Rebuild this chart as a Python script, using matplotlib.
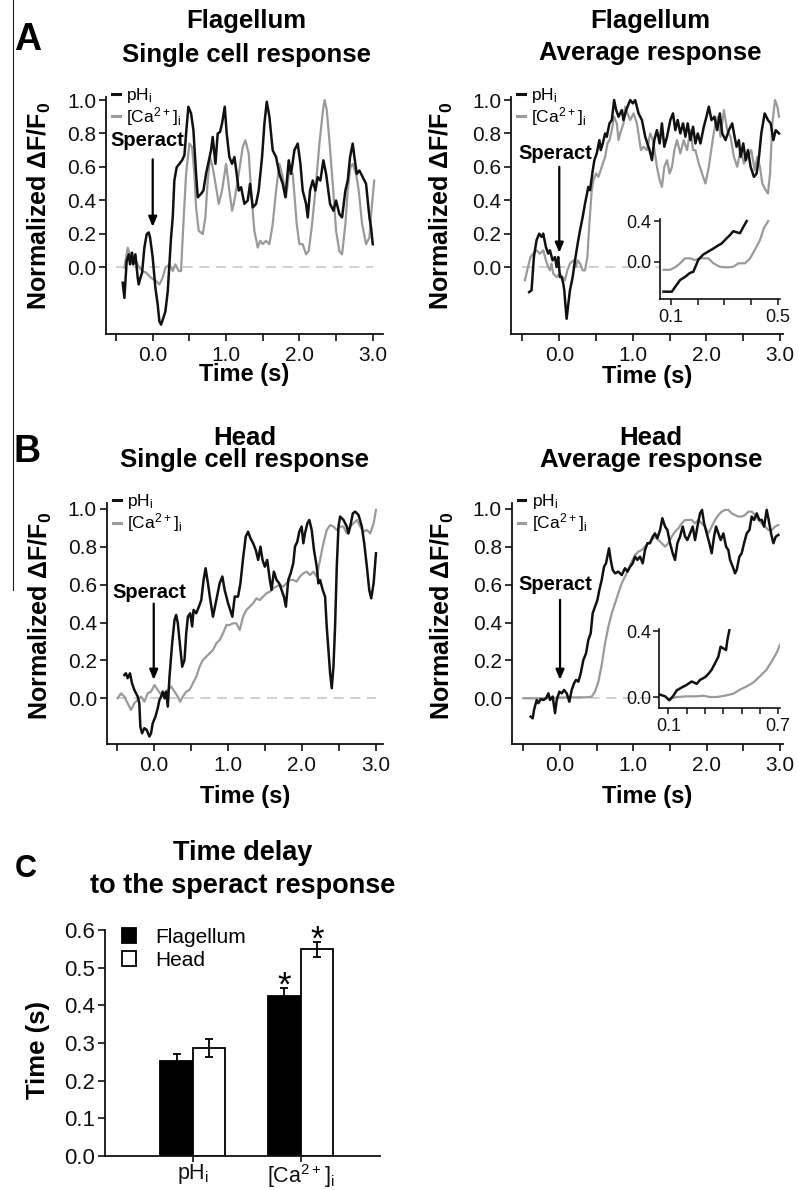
import numpy as np
import matplotlib
matplotlib.use("Agg")
import matplotlib.pyplot as plt
from matplotlib.lines import Line2D

plt.rcParams['font.family'] = ['Liberation Sans', 'DejaVu Sans']
plt.rcParams['mathtext.default'] = 'regular'

# ---------------- data ----------------
# Panel A, flagellum, single cell
fsc_ph_t = [-0.409,-0.386,-0.355,-0.327,-0.309,-0.282,-0.264,-0.236,-0.205,-0.191,-0.168,-0.145,-0.114,-0.082,-0.055,-0.036,0.0,0.036,0.068,0.091,0.114,0.145,0.173,0.205,0.25,0.273,0.295,0.327,0.364,0.4,0.432,0.455,0.486,0.523,0.555,0.591,0.614,0.659,0.691,0.727,0.795,0.818,0.855,0.886,0.918,0.945,0.982,1.009,1.045,1.082,1.114,1.145,1.173,1.205,1.25,1.295,1.327,1.364,1.409,1.445,1.491,1.523,1.555,1.591,1.636,1.682,1.727,1.773,1.809,1.855,1.886,1.932,1.977,2.014,2.045,2.091,2.114,2.145,2.182,2.218,2.25,2.286,2.327,2.364,2.418,2.464,2.5,2.545,2.582,2.627,2.659,2.691,2.727,2.75,2.782,2.818,2.864,2.909,2.955,2.977,3.0]
fsc_ph_y = [-0.094,-0.185,0.036,0.076,0.016,0.086,0.016,0.076,-0.064,-0.104,-0.064,-0.034,0.116,0.197,0.207,0.177,0.056,-0.124,-0.225,-0.325,-0.345,-0.305,-0.265,-0.145,0.177,0.297,0.518,0.598,0.618,0.639,0.669,0.799,0.96,0.92,0.819,0.558,0.418,0.438,0.458,0.558,0.699,0.779,0.618,0.799,0.809,0.859,0.96,0.799,0.659,0.618,0.659,0.558,0.458,0.478,0.378,0.398,0.498,0.357,0.378,0.458,0.659,0.859,0.99,0.9,0.699,0.659,0.558,0.498,0.418,0.639,0.558,0.699,0.739,0.618,0.458,0.378,0.297,0.458,0.518,0.458,0.538,0.518,0.639,0.558,0.378,0.337,0.398,0.317,0.297,0.458,0.518,0.659,0.739,0.659,0.558,0.578,0.538,0.498,0.297,0.237,0.137]
fsc_ca_t = [-0.386,-0.341,-0.309,-0.273,-0.227,-0.182,-0.136,-0.091,-0.023,0.045,0.091,0.136,0.173,0.227,0.273,0.309,0.355,0.386,0.418,0.455,0.5,0.536,0.568,0.591,0.627,0.682,0.718,0.75,0.782,0.818,0.864,0.9,0.945,1.0,1.045,1.082,1.114,1.173,1.227,1.264,1.309,1.341,1.386,1.432,1.464,1.5,1.545,1.591,1.636,1.682,1.727,1.773,1.818,1.864,1.909,1.964,2.0,2.045,2.091,2.127,2.173,2.227,2.273,2.327,2.345,2.373,2.409,2.455,2.5,2.545,2.582,2.627,2.659,2.695,2.727,2.773,2.809,2.855,2.909,2.955,2.986,3.02]
fsc_ca_y = [-0.004,0.116,0.076,0.016,0.036,-0.004,-0.024,-0.034,-0.064,-0.084,-0.104,-0.064,-0.004,0.016,-0.024,0.016,-0.024,-0.024,0.257,0.558,0.739,0.719,0.558,0.357,0.217,0.197,0.297,0.518,0.659,0.598,0.478,0.378,0.458,0.618,0.458,0.337,0.398,0.558,0.719,0.759,0.679,0.458,0.217,0.116,0.157,0.137,0.157,0.137,0.257,0.458,0.618,0.538,0.418,0.578,0.558,0.257,0.137,0.137,0.076,0.096,0.257,0.498,0.739,0.96,1.0,0.94,0.759,0.498,0.217,0.096,0.076,0.257,0.458,0.598,0.618,0.558,0.458,0.257,0.137,0.177,0.357,0.518]

# Panel A, flagellum, average
fav_ph_t = [-0.409,-0.377,-0.345,-0.309,-0.273,-0.241,-0.218,-0.182,-0.15,-0.127,-0.091,-0.059,-0.036,-0.014,0.009,0.032,0.055,0.068,0.082,0.1,0.123,0.145,0.182,0.214,0.25,0.282,0.318,0.35,0.395,0.418,0.455,0.477,0.509,0.545,0.564,0.591,0.623,0.645,0.682,0.714,0.745,0.773,0.805,0.85,0.873,0.909,0.964,1.0,1.032,1.077,1.123,1.168,1.227,1.259,1.291,1.327,1.364,1.395,1.427,1.464,1.509,1.545,1.577,1.609,1.645,1.682,1.714,1.745,1.782,1.818,1.85,1.882,1.918,1.964,2.0,2.032,2.068,2.109,2.145,2.182,2.214,2.259,2.305,2.35,2.382,2.409,2.441,2.464,2.5,2.532,2.564,2.6,2.645,2.682,2.714,2.745,2.791,2.836,2.873,2.909,2.941,2.986]
fav_ph_y = [-0.15,-0.14,0.06,0.16,0.2,0.18,0.2,0.12,0.08,0.1,0.04,0.06,0.0,0.06,-0.06,-0.06,-0.1,-0.14,-0.22,-0.31,-0.22,-0.14,-0.06,0.04,0.14,0.22,0.3,0.38,0.48,0.46,0.58,0.64,0.68,0.76,0.7,0.74,0.8,0.78,0.86,0.88,1.0,0.94,0.9,0.94,0.88,0.94,1.0,0.98,1.0,0.92,0.88,0.78,0.7,0.64,0.76,0.82,0.74,0.86,0.72,0.78,0.88,0.92,0.82,0.88,0.8,0.86,0.78,0.86,0.76,0.84,0.74,0.8,0.74,0.84,0.9,0.96,0.88,0.9,0.82,0.92,0.8,0.76,0.82,0.86,0.78,0.72,0.76,0.66,0.74,0.64,0.7,0.6,0.54,0.56,0.66,0.8,0.92,0.88,0.86,0.76,0.82,0.8]
fav_ca_t = [-0.468,-0.436,-0.391,-0.355,-0.309,-0.264,-0.218,-0.182,-0.15,-0.127,-0.105,-0.082,-0.036,0.009,0.045,0.077,0.109,0.145,0.191,0.227,0.25,0.282,0.318,0.35,0.382,0.409,0.441,0.464,0.5,0.532,0.577,0.623,0.655,0.682,0.714,0.745,0.782,0.805,0.827,0.873,0.895,0.927,0.964,1.009,1.055,1.109,1.145,1.191,1.236,1.273,1.327,1.364,1.395,1.427,1.464,1.5,1.532,1.564,1.6,1.645,1.691,1.736,1.782,1.818,1.85,1.895,1.955,1.986,2.032,2.091,2.123,2.155,2.191,2.236,2.282,2.327,2.373,2.418,2.464,2.509,2.564,2.609,2.655,2.691,2.727,2.759,2.805,2.836,2.864,2.895,2.932,2.964,2.986]
fav_ca_y = [-0.08,-0.02,0.06,0.08,0.1,0.08,0.1,0.04,0.0,-0.02,0.02,-0.04,-0.06,-0.04,-0.06,-0.08,-0.02,0.02,0.04,0.0,0.04,0.02,-0.02,-0.02,0.06,0.26,0.46,0.52,0.56,0.54,0.6,0.66,0.74,0.76,0.82,0.9,0.86,0.76,0.8,0.86,0.96,0.92,0.88,0.92,0.86,0.7,0.72,0.7,0.8,0.76,0.6,0.52,0.48,0.6,0.64,0.56,0.6,0.7,0.76,0.68,0.76,0.7,0.82,0.7,0.7,0.62,0.54,0.5,0.6,0.78,0.86,0.9,0.78,0.94,0.82,0.78,0.66,0.6,0.7,0.62,0.66,0.7,0.58,0.66,0.6,0.5,0.46,0.44,0.56,0.86,1.0,0.96,0.9]
# inset (flagellum average, early rise)
fin_ph_t = [0.073,0.104,0.116,0.135,0.153,0.172,0.184,0.203,0.221,0.24,0.259,0.277,0.29,0.308,0.32,0.333,0.345,0.358,0.37,0.383]
fin_ph_y = [-0.295,-0.295,-0.25,-0.18,-0.15,-0.11,-0.1,0.02,0.07,0.1,0.13,0.16,0.18,0.23,0.26,0.3,0.29,0.28,0.34,0.4]
fin_ca_t = [0.073,0.098,0.116,0.135,0.153,0.172,0.19,0.209,0.24,0.259,0.283,0.308,0.333,0.352,0.376,0.395,0.413,0.432,0.447,0.463]
fin_ca_y = [-0.08,-0.08,-0.056,-0.016,0.033,0.033,0.016,0.033,0.033,-0.016,-0.05,-0.056,-0.05,-0.016,-0.016,0.03,0.115,0.21,0.33,0.4]

# Panel B, head, single cell
hsc_ph_t = [-0.398,-0.376,-0.353,-0.321,-0.294,-0.262,-0.217,-0.195,-0.181,-0.158,-0.127,-0.095,-0.059,-0.036,-0.014,0.023,0.054,0.077,0.1,0.122,0.145,0.167,0.19,0.213,0.249,0.281,0.303,0.326,0.357,0.385,0.416,0.439,0.462,0.493,0.52,0.538,0.575,0.611,0.643,0.674,0.701,0.733,0.765,0.801,0.846,0.891,0.928,0.959,1.005,1.063,1.095,1.14,1.172,1.208,1.244,1.276,1.308,1.344,1.38,1.412,1.443,1.471,1.502,1.534,1.57,1.593,1.624,1.661,1.697,1.729,1.76,1.787,1.819,1.851,1.887,1.91,1.941,1.968,2.0,2.023,2.045,2.077,2.104,2.136,2.167,2.204,2.226,2.249,2.285,2.317,2.339,2.362,2.385,2.407,2.43,2.452,2.475,2.498,2.52,2.566,2.611,2.633,2.656,2.692,2.724,2.769,2.814,2.846,2.882,2.914,2.941,2.973,3.005]
hsc_ph_y = [0.123,0.132,0.106,0.132,0.079,0.044,0.009,-0.026,-0.15,-0.185,-0.158,-0.167,-0.202,-0.185,-0.132,-0.097,-0.053,-0.009,0.009,0.035,0.0,0.035,-0.044,0.114,0.29,0.414,0.44,0.396,0.273,0.167,0.202,0.343,0.431,0.449,0.379,0.467,0.449,0.484,0.519,0.625,0.687,0.607,0.519,0.431,0.519,0.607,0.643,0.572,0.502,0.431,0.537,0.537,0.607,0.739,0.854,0.88,0.845,0.819,0.783,0.731,0.801,0.731,0.695,0.731,0.625,0.572,0.669,0.625,0.607,0.572,0.537,0.484,0.625,0.66,0.713,0.801,0.827,0.88,0.907,0.819,0.871,0.924,0.942,0.889,0.783,0.695,0.607,0.625,0.572,0.537,0.379,0.255,0.132,0.053,0.167,0.379,0.695,0.907,0.96,0.942,0.907,0.871,0.907,0.977,0.986,0.968,0.907,0.819,0.695,0.572,0.528,0.607,0.766]
hsc_ca_t = [-0.489,-0.443,-0.398,-0.353,-0.308,-0.262,-0.217,-0.172,-0.127,-0.081,-0.036,0.009,0.054,0.1,0.145,0.19,0.235,0.281,0.326,0.357,0.394,0.439,0.484,0.529,0.575,0.62,0.665,0.71,0.756,0.801,0.846,0.891,0.937,0.982,1.027,1.072,1.118,1.163,1.208,1.253,1.299,1.344,1.389,1.434,1.48,1.525,1.57,1.615,1.661,1.706,1.751,1.796,1.842,1.887,1.932,1.977,2.023,2.068,2.113,2.158,2.204,2.249,2.294,2.339,2.385,2.43,2.475,2.52,2.566,2.611,2.656,2.701,2.747,2.792,2.837,2.882,2.928,2.973,3.005]
hsc_ca_y = [0.0,0.026,0.009,-0.026,-0.062,-0.026,-0.009,0.009,-0.018,0.026,0.035,0.07,0.044,0.018,0.026,0.044,0.062,0.035,0.009,-0.018,0.009,0.035,0.044,0.079,0.114,0.167,0.202,0.22,0.238,0.255,0.29,0.308,0.343,0.387,0.387,0.396,0.396,0.361,0.431,0.467,0.484,0.502,0.528,0.519,0.537,0.555,0.563,0.581,0.59,0.599,0.59,0.607,0.625,0.625,0.616,0.643,0.66,0.669,0.651,0.669,0.643,0.731,0.819,0.889,0.915,0.907,0.889,0.907,0.907,0.871,0.907,0.924,0.942,0.907,0.88,0.889,0.871,0.924,0.995]

# Panel B, head, average
hav_ph_t = [-0.4,-0.373,-0.355,-0.318,-0.295,-0.264,-0.227,-0.191,-0.159,-0.136,-0.1,-0.068,-0.045,-0.009,0.023,0.055,0.091,0.127,0.159,0.191,0.218,0.25,0.282,0.318,0.355,0.386,0.418,0.445,0.477,0.509,0.536,0.568,0.6,0.627,0.645,0.668,0.691,0.718,0.75,0.795,0.841,0.886,0.918,0.955,0.991,1.023,1.055,1.091,1.127,1.159,1.191,1.227,1.264,1.295,1.327,1.364,1.395,1.432,1.464,1.5,1.536,1.568,1.6,1.636,1.673,1.705,1.736,1.773,1.809,1.841,1.873,1.909,1.936,1.964,2.0,2.036,2.068,2.1,2.127,2.159,2.191,2.227,2.264,2.295,2.318,2.355,2.386,2.409,2.445,2.477,2.509,2.545,2.582,2.614,2.645,2.682,2.718,2.75,2.782,2.818,2.845,2.877,2.909,2.941,2.977]
hav_ph_y = [-0.097,-0.106,-0.062,-0.009,-0.026,-0.005,-0.009,0.0,0.026,-0.009,0.009,-0.079,-0.009,0.035,0.026,0.044,0.026,-0.018,0.044,0.079,0.097,0.088,0.132,0.202,0.238,0.308,0.343,0.449,0.484,0.519,0.572,0.625,0.695,0.713,0.748,0.792,0.731,0.678,0.66,0.669,0.651,0.687,0.669,0.695,0.713,0.748,0.731,0.748,0.713,0.783,0.819,0.819,0.854,0.871,0.845,0.889,0.951,0.907,0.889,0.819,0.766,0.731,0.819,0.854,0.907,0.854,0.836,0.871,0.907,0.836,0.907,0.977,0.995,0.924,0.871,0.819,0.766,0.854,0.907,0.871,0.836,0.871,0.801,0.783,0.731,0.695,0.66,0.678,0.748,0.766,0.819,0.871,0.889,0.96,0.942,0.977,0.942,0.942,0.907,0.995,0.942,0.871,0.819,0.854,0.863]
hav_ca_t = [-0.5,-0.409,-0.227,0.0,0.227,0.364,0.432,0.477,0.523,0.568,0.614,0.659,0.705,0.75,0.795,0.841,0.886,0.932,0.977,1.023,1.068,1.114,1.159,1.205,1.25,1.295,1.341,1.386,1.432,1.477,1.523,1.568,1.614,1.659,1.705,1.75,1.795,1.841,1.886,1.932,1.977,2.023,2.068,2.114,2.159,2.205,2.25,2.295,2.341,2.386,2.432,2.477,2.523,2.568,2.614,2.659,2.705,2.75,2.795,2.841,2.886,2.932,2.977]
hav_ca_y = [0.0,0.0,0.0,0.004,0.005,0.005,0.009,0.035,0.088,0.176,0.29,0.379,0.449,0.502,0.555,0.607,0.643,0.678,0.722,0.757,0.775,0.783,0.801,0.819,0.836,0.854,0.836,0.819,0.801,0.819,0.854,0.88,0.898,0.924,0.942,0.942,0.942,0.924,0.942,0.924,0.907,0.871,0.907,0.942,0.968,0.986,0.995,0.995,0.977,0.968,0.96,0.96,0.968,0.986,0.986,0.968,0.942,0.924,0.907,0.889,0.889,0.907,0.915]
# inset (head average, early rise)
hin_ph_t = [0.055,0.082,0.105,0.127,0.145,0.173,0.2,0.227,0.255,0.273,0.3,0.318,0.336,0.355,0.373,0.385,0.4,0.415,0.422,0.433]
hin_ph_y = [0.014,0.004,-0.02,0.008,0.04,0.058,0.074,0.094,0.08,0.104,0.12,0.14,0.165,0.205,0.245,0.305,0.295,0.285,0.345,0.405]
hin_ca_t = [0.1,0.145,0.2,0.255,0.29,0.327,0.364,0.409,0.455,0.49,0.527,0.564,0.6,0.636,0.664,0.69,0.718]
hin_ca_y = [-0.012,0.0,0.004,0.004,0.008,0.0,0.0,0.008,0.02,0.044,0.064,0.088,0.125,0.165,0.215,0.265,0.336]

# Panel C, time delay
c_categories = ['pH$_i$', '[Ca$^{2+}$]$_i$']
c_flagellum = [0.252, 0.426]
c_flagellum_err = [0.020, 0.021]
c_head = [0.287, 0.549]
c_head_err = [0.024, 0.020]

x_ticks = [-0.5, 0.0, 0.5, 1.0, 1.5, 2.0, 2.5, 3.0]
x_ticklabels = ['', '0.0', '', '1.0', '', '2.0', '', '3.0']
y_ticks = [0.0, 0.2, 0.4, 0.6, 0.8, 1.0]
y_ticklabels = ['0.0', '0.2', '0.4', '0.6', '0.8', '1.0']
baseline_span = (-0.5, 3.0)

# ---------------- drawing ----------------
W, H = 798, 1190
fig = plt.figure(figsize=(W / 100, H / 100), dpi=100)

def rect(x0, y0, x1, y1):
    return [x0 / W, 1 - y1 / H, (x1 - x0) / W, (y1 - y0) / H]

BLACK = '#111111'
GRAY = '#9a9a9a'

def style_axes(ax, lw=1.3):
    for s in ['top', 'right']:
        ax.spines[s].set_visible(False)
    for s in ['left', 'bottom']:
        ax.spines[s].set_linewidth(lw)
        ax.spines[s].set_color('#111111')

def main_panel(pos, xlim, ylim, ph_t, ph_y, ca_t, ca_y, sp_text, sp_arrow, ylab_coords, xlab_y):
    ax = fig.add_axes(rect(*pos))
    style_axes(ax)
    ax.set_xlim(*xlim)
    ax.set_ylim(*ylim)
    ax.hlines(0, *baseline_span, colors='#c8c8c8', linewidth=1.2, linestyles=(0, (6, 4)), zorder=1)
    lca, = ax.plot(ca_t, ca_y, color=GRAY, lw=1.6, zorder=2)
    lph, = ax.plot(ph_t, ph_y, color=BLACK, lw=1.8, zorder=3)
    ax.set_xticks(x_ticks)
    ax.set_xticklabels(x_ticklabels)
    ax.set_yticks(y_ticks)
    ax.set_yticklabels(y_ticklabels)
    ax.tick_params(direction='out', length=5, width=1.2, labelsize=15, pad=2, colors='#111111')
    ax.tick_params(axis='x', pad=4)
    ax.set_ylabel('Normalized ΔF/F$_0$', fontsize=18, fontweight='bold')
    ax.yaxis.set_label_coords(*ylab_coords)
    ax.set_xlabel('Time (s)', fontsize=17, fontweight='bold')
    ax.xaxis.set_label_coords(0.5, xlab_y)
    leg = ax.legend([lph, lca], ['pH$_i$', '[Ca$^{2+}$]$_i$'], loc='upper left',
                    bbox_to_anchor=(0.022, 1.045), frameon=False, fontsize=12.5,
                    handlelength=0.45, handletextpad=0.35, labelspacing=0.0,
                    borderpad=0, borderaxespad=0)
    for h in leg.legend_handles:
        h.set_linewidth(2.2)
    ax.text(sp_text[0], sp_text[1], 'Speract', fontsize=14.5, fontweight='bold',
            ha='center', va='center', zorder=5)
    ax.annotate('', xy=(0.0, sp_arrow[1]), xytext=(0.0, sp_arrow[0]),
                arrowprops=dict(arrowstyle='-|>,head_length=0.6,head_width=0.25',
                                color='black', lw=1.6, shrinkA=0, shrinkB=0), zorder=5)
    return ax

def inset_panel(pos, xlim, ylim, xticks, xlabels, ph_t, ph_y, ca_t, ca_y):
    ax = fig.add_axes(rect(*pos))
    ax.set_facecolor('white')
    style_axes(ax, lw=1.2)
    ax.set_xlim(*xlim)
    ax.set_ylim(*ylim)
    ax.plot(ca_t, ca_y, color=GRAY, lw=1.6)
    ax.plot(ph_t, ph_y, color=BLACK, lw=1.8)
    ax.set_xticks(xticks)
    ax.set_xticklabels(xlabels)
    ax.set_yticks([0.0, 0.4])
    ax.set_yticklabels(['0.0', '0.4'])
    ax.tick_params(direction='out', length=4, width=1.1, labelsize=13, pad=2, colors='#111111')
    ax.tick_params(axis='x', pad=3)
    return ax

# A left
main_panel((106, 96.7, 383, 333.8), (-0.637, 3.14), (-0.4, 1.02),
           fsc_ph_t, fsc_ph_y, fsc_ca_t, fsc_ca_y,
           (-0.08, 0.755), (0.645, 0.24), (-0.19, 0.54), -0.125)
# A right
main_panel((511, 96.7, 783, 333.8), (-0.656, 3.04), (-0.4, 1.02),
           fav_ph_t, fav_ph_y, fav_ca_t, fav_ca_y,
           (-0.06, 0.68), (0.6, 0.085), (-0.205, 0.54), -0.13)
# B left
main_panel((106.7, 503.3, 383, 743.7), (-0.636, 3.10), (-0.24, 1.03),
           hsc_ph_t, hsc_ph_y, hsc_ca_t, hsc_ca_y,
           (-0.06, 0.56), (0.5, 0.097), (-0.19, 0.53), -0.17)
# B right
main_panel((511.7, 503.3, 783, 743.7), (-0.659, 3.04), (-0.24, 1.03),
           hav_ph_t, hav_ph_y, hav_ca_t, hav_ca_y,
           (-0.06, 0.6), (0.52, 0.097), (-0.205, 0.53), -0.17)

inset_panel((660, 219, 780, 299.3), (0.06, 0.507), (-0.37, 0.42),
            [0.1, 0.2, 0.3, 0.4, 0.5], ['0.1', '', '', '', '0.5'],
            fin_ph_t, fin_ph_y, fin_ca_t, fin_ca_y)
inset_panel((659.3, 629.4, 780, 707.9), (0.05, 0.71), (-0.066, 0.41),
            [0.1, 0.2, 0.3, 0.4, 0.5, 0.6, 0.7], ['0.1', '', '', '', '', '', '0.7'],
            hin_ph_t, hin_ph_y, hin_ca_t, hin_ca_y)

# C
axc = fig.add_axes(rect(105, 930, 380, 1156))
style_axes(axc)
xc = np.arange(len(c_categories))
bw = 0.3
axc.bar(xc - bw / 2, c_flagellum, bw, color='black', edgecolor='black', linewidth=1.3, label='Flagellum', zorder=2)
axc.bar(xc + bw / 2, c_head, bw, color='white', edgecolor='black', linewidth=1.3, label='Head', zorder=2)
axc.errorbar(xc - bw / 2, c_flagellum, yerr=c_flagellum_err, fmt='none', ecolor='black', elinewidth=1.3, capsize=3, capthick=1.3, zorder=3)
axc.errorbar(xc + bw / 2, c_head, yerr=c_head_err, fmt='none', ecolor='black', elinewidth=1.3, capsize=3, capthick=1.3, zorder=3)
for xi, v in zip(xc[1:] - bw / 2, c_flagellum[1:]):
    axc.text(xi, v, '*', fontsize=25, ha='center', va='baseline', clip_on=False)
for xi, v in zip(xc[1:] + bw / 2, c_head[1:]):
    axc.text(xi, v, '*', fontsize=25, ha='center', va='baseline', clip_on=False)
axc.set_xlim(-0.814, 1.736)
axc.set_ylim(0, 0.6)
axc.set_yticks(np.arange(0, 0.61, 0.1))
axc.set_yticklabels(['0.0', '0.1', '0.2', '0.3', '0.4', '0.5', '0.6'])
axc.set_xticks(xc)
axc.set_xticklabels(c_categories)
axc.tick_params(direction='out', length=5, width=1.2, labelsize=16, pad=2, colors='#111111')
axc.tick_params(axis='x', length=4, pad=0.5, labelsize=15.5)
axc.set_ylabel('Time (s)', fontsize=18.5, fontweight='bold')
axc.yaxis.set_label_coords(-0.2, 0.47)
axc.legend(loc='upper left', bbox_to_anchor=(0.06, 1.01), frameon=False, fontsize=15,
           handlelength=0.7, handleheight=0.7, handletextpad=0.9, labelspacing=0.2,
           borderpad=0, borderaxespad=0)

# titles
def title(x, y, s, size=18.5):
    fig.text(x / W, 1 - y / H, s, fontsize=size, fontweight='bold', ha='center', va='baseline')

title(246, 28, 'Flagellum')
title(246, 62, 'Single cell response')
title(650, 28, 'Flagellum')
title(650, 60, 'Average response')
title(245, 445, 'Head')
title(245, 467, 'Single cell response')
title(651, 445, 'Head')
title(651, 467, 'Average response')
title(242.5, 860, 'Time delay', 19.5)
title(242.5, 893, 'to the speract response', 19.5)

fig.text(14 / W, 1 - 50 / H, 'A', fontsize=27, fontweight='bold', ha='left', va='baseline')
fig.text(14 / W, 1 - 462 / H, 'B', fontsize=27, fontweight='bold', ha='left', va='baseline')
fig.text(15 / W, 1 - 877 / H, 'C', fontsize=22, fontweight='bold', ha='left', va='baseline')

fig.add_artist(Line2D([13 / W, 13 / W], [1.0, 1 - 590 / H], color='#222222', lw=0.8))

fig.savefig('out.png', dpi=100, facecolor='white')
